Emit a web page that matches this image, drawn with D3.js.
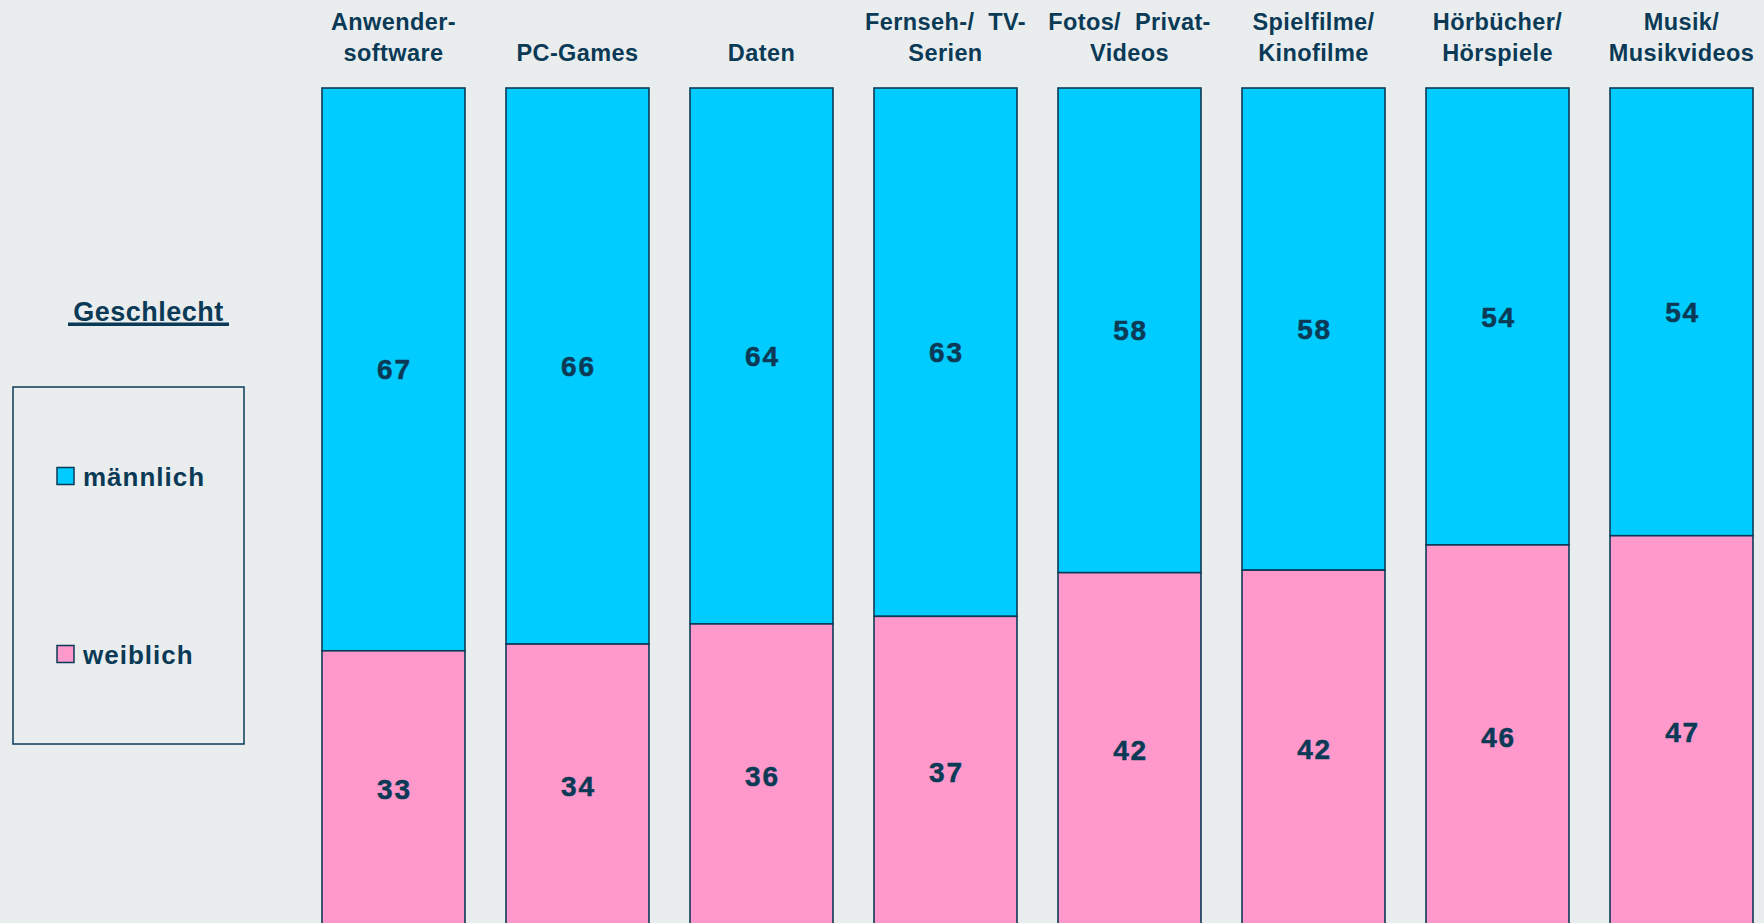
<!DOCTYPE html>
<html>
<head>
<meta charset="utf-8">
<script src="https://cdn.jsdelivr.net/npm/d3@7"></script>
<style>
  html, body { margin: 0; padding: 0; background: #e9edee; }
  svg { display: block; }
  text { font-family: "Liberation Sans", Arial, sans-serif; font-weight: bold; fill: #0b3a56; }
</style>
</head>
<body>
<svg id="chart" width="1764" height="923"></svg>
<script>
const categories = [
  ["Anwender-", "software"],
  ["PC-Games"],
  ["Daten"],
  ["Fernseh-/  TV-", "Serien"],
  ["Fotos/  Privat-", "Videos"],
  ["Spielfilme/", "Kinofilme"],
  ["Hörbücher/", "Hörspiele"],
  ["Musik/", "Musikvideos"]
];
// printed labels
const maleLabels   = [67, 66, 64, 63, 58, 58, 54, 54];
const femaleLabels = [33, 34, 36, 37, 42, 42, 46, 47];
// shares as drawn (percent of 100)
const maleShare    = [67.0, 66.2, 63.8, 62.9, 57.7, 57.4, 54.4, 53.3];
const femaleShare  = [33.0, 33.8, 36.2, 37.1, 42.3, 42.6, 45.6, 46.7];
const seriesNames  = ["männlich", "weiblich"];
const legendTitle  = "Geschlecht";

const colors = { "männlich": "#00ccff", "weiblich": "#ff99cc" };
const ink = "#0b3a56";

const keys = categories.map(c => c.join(" "));
const rows = keys.map((k, i) => {
  const tot = maleShare[i] + femaleShare[i];
  return { key: k, "männlich": maleShare[i] / tot, "weiblich": femaleShare[i] / tot,
           lab: { "männlich": maleLabels[i], "weiblich": femaleLabels[i] } };
});

const svg = d3.select("#chart");

const x = d3.scaleBand().domain(keys).range([322, 1753]).paddingInner(0.223).paddingOuter(0);
const y = d3.scaleLinear().domain([0, 1]).range([88, 928]);

const series = d3.stack().keys(seriesNames)(rows);

const g = svg.append("g");
const layers = g.selectAll("g.layer").data(series).join("g").attr("class", "layer");

layers.selectAll("rect").data(d => d.map(p => ({ p, key: d.key }))).join("rect")
  .attr("x", d => x(d.p.data.key))
  .attr("y", d => y(d.p[0]))
  .attr("width", x.bandwidth())
  .attr("height", d => y(d.p[1]) - y(d.p[0]))
  .attr("fill", d => colors[d.key])
  .attr("stroke", ink)
  .attr("stroke-width", 1.6);

layers.selectAll("text").data(d => d.map(p => ({ p, key: d.key }))).join("text")
  .attr("x", d => x(d.p.data.key) + x.bandwidth() / 2 + 1)
  .attr("y", d => (y(d.p[0]) + y(d.p[1])) / 2)
  .attr("dy", "0.36em")
  .attr("text-anchor", "middle")
  .style("font-size", "28px")
  .style("letter-spacing", "1.8px")
  .style("stroke", ink).style("stroke-width", "0.5px")
  .text(d => d.p.data.lab[d.key]);

// category labels
const cat = svg.append("g").selectAll("text").data(categories).join("text")
  .attr("text-anchor", "middle")
  .style("font-size", "23.5px")
  .style("letter-spacing", "0.4px")
  .attr("x", (d, i) => x(keys[i]) + x.bandwidth() / 2);
cat.each(function(d) {
  const t = d3.select(this);
  const lines = d.length === 1 ? ["", d[0]] : d;
  lines.forEach((ln, j) => {
    if (!ln) return;
    t.append("tspan")
      .attr("x", t.attr("x"))
      .attr("y", j === 0 ? 30 : 61)
      .style("white-space", "pre")
      .text(ln);
  });
});

// legend title
svg.append("text")
  .attr("x", 148.5).attr("y", 320.5)
  .attr("text-anchor", "middle")
  .style("font-size", "27px")
  .style("letter-spacing", "0.5px")
  .text(legendTitle);
svg.append("rect").attr("x", 68).attr("y", 322.5).attr("width", 161).attr("height", 3.5).attr("fill", ink);

// legend box
svg.append("rect")
  .attr("x", 13).attr("y", 387).attr("width", 231).attr("height", 357)
  .attr("fill", "none").attr("stroke", ink).attr("stroke-width", 1.5);

const legY = { "männlich": 476, "weiblich": 654 };
const leg = svg.append("g").selectAll("g").data(seriesNames).join("g");
leg.append("rect")
  .attr("x", 57).attr("y", d => legY[d] - 8.5)
  .attr("width", 17).attr("height", 17)
  .attr("fill", d => colors[d]).attr("stroke", ink).attr("stroke-width", 1.5);
leg.append("text")
  .attr("x", 83).attr("y", d => legY[d] + 9.5)
  .style("font-size", "26px")
  .style("letter-spacing", "1px")
  .text(d => d);
</script>
</body>
</html>
